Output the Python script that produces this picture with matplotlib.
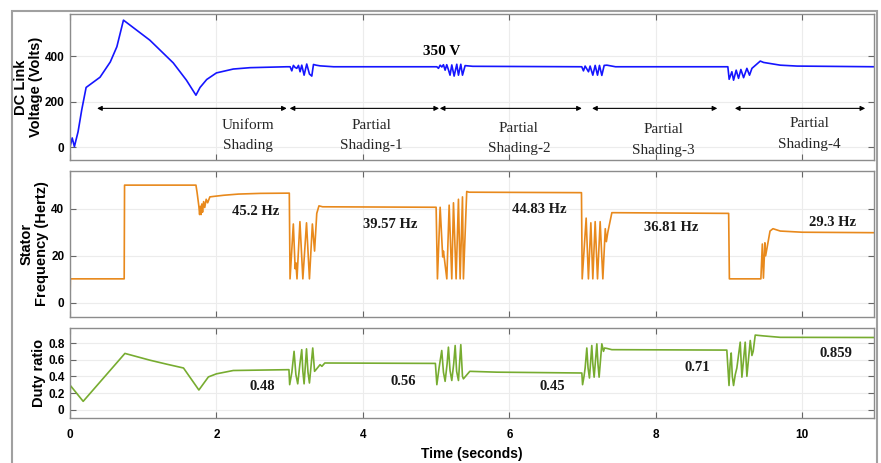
import matplotlib
matplotlib.use("Agg")
import matplotlib.pyplot as plt
from matplotlib.patches import Rectangle

plt.rcParams['font.family'] = ['Liberation Sans', 'DejaVu Sans']

# DC link voltage (V) vs time (s)
t_volt = [0, 0.03, 0.06, 0.11, 0.16, 0.22, 0.41, 0.55, 0.64, 0.73, 1.09, 1.41, 1.59, 1.72, 1.776, 1.867, 2.0, 2.23, 2.46, 2.96,
          3.006, 3.029, 3.051, 3.074, 3.097, 3.12, 3.142, 3.165, 3.197, 3.233, 3.27, 3.302, 3.325, 3.361, 3.415, 3.6,
          5.01, 5.032, 5.055, 5.078, 5.10, 5.123, 5.145, 5.168, 5.19, 5.214, 5.246, 5.282, 5.305, 5.337, 5.36, 5.396, 5.5,
          6.989, 7.012, 7.035, 7.081, 7.103, 7.14, 7.172, 7.204, 7.231, 7.263, 7.295, 7.332, 7.45,
          8.984, 9.002, 9.039, 9.062, 9.098, 9.13, 9.162, 9.199, 9.244, 9.28, 9.313, 9.427, 9.472, 9.7, 9.93, 11.0]
volt = [0, 40, 2, 67, 163, 262, 307, 374, 441, 558, 470, 370, 294, 228, 262, 297, 326, 343, 349, 353,
        353, 335, 359, 350, 346, 359, 331, 360, 316, 365, 321, 312, 363, 360, 357, 353,
        353, 346, 360, 352, 362, 338, 362, 340, 316, 361, 312, 364, 316, 364, 316, 358, 355,
        353, 335, 356, 331, 356, 316, 359, 316, 359, 315, 359, 360, 353,
        353, 298, 331, 294, 338, 302, 341, 305, 346, 316, 346, 378, 372, 360, 356, 353]

# stator frequency (Hz)
t_freq = [0, 0.005, 0.74, 0.745, 1.72, 1.735, 1.76, 1.77, 1.78, 1.79, 1.80, 1.81, 1.825, 1.84, 1.86, 1.88, 1.91, 1.96, 2.1, 2.3, 2.6, 2.995,
          3.005, 3.05, 3.075, 3.085, 3.10, 3.14, 3.18, 3.23, 3.27, 3.31, 3.34, 3.37, 3.40, 3.45, 5.0,
          5.018, 5.055, 5.09, 5.10, 5.146, 5.178, 5.214, 5.237, 5.273, 5.305, 5.328, 5.36, 5.373, 5.418, 5.45, 6.985,
          6.995, 7.049, 7.08, 7.113, 7.14, 7.172, 7.204, 7.24, 7.277, 7.31, 7.325, 7.345, 7.40, 8.995,
          9.005, 9.435, 9.455, 9.47, 9.49, 9.50, 9.56, 9.60, 9.70, 10.0, 11.0]
freq = [0, 10.2, 10.2, 50, 50, 47, 41, 37.5, 41, 37.5, 42, 38.5, 43, 40.5, 44, 42.5, 45, 45.2, 45.7, 46.2, 46.5, 46.6,
        10.2, 33.5, 14.5, 17, 10.2, 34.5, 10.2, 34, 10.2, 33.5, 22, 38, 41.2, 40.8, 40.6,
        10.2, 40.6, 19.5, 22, 10.2, 41.5, 10.2, 42.5, 10.2, 44, 10.2, 45, 10.2, 47.3, 47, 46.8,
        10.2, 36, 10.2, 34, 10.2, 34.5, 10.2, 34.5, 10.2, 31.5, 26, 30, 38.3, 38,
        10.2, 10.2, 25, 10.5, 25.5, 20, 30.5, 31.5, 30.5, 30, 29.8]

# duty ratio
t_duty = [0, 0.005, 0.18, 0.75, 1.09, 1.32, 1.55, 1.76, 1.89, 2.0, 2.23, 2.99,
          3.0, 3.03, 3.06, 3.085, 3.11, 3.14, 3.165, 3.18, 3.197, 3.23, 3.25, 3.27, 3.315, 3.34, 3.36, 3.415, 3.44, 3.48, 4.99,
          5.01, 5.04, 5.077, 5.10, 5.123, 5.15, 5.168, 5.19, 5.214, 5.24, 5.26, 5.28, 5.305, 5.337, 5.36, 5.373, 5.46, 5.83, 6.99,
          7.0, 7.02, 7.035, 7.058, 7.075, 7.094, 7.126, 7.14, 7.158, 7.195, 7.21, 7.226, 7.263, 7.286, 7.30, 7.332, 7.4, 8.97,
          9.0, 9.015, 9.03, 9.045, 9.062, 9.085, 9.107, 9.153, 9.176, 9.221, 9.244, 9.29, 9.313, 9.33, 9.358, 9.472, 9.7, 11.0]
duty = [0, 0.29, 0.10, 0.675, 0.594, 0.546, 0.50, 0.236, 0.393, 0.43, 0.47, 0.48,
        0.30, 0.45, 0.70, 0.42, 0.31, 0.55, 0.72, 0.46, 0.31, 0.73, 0.45, 0.32, 0.74, 0.46, 0.48, 0.54, 0.52, 0.56, 0.555,
        0.30, 0.50, 0.71, 0.45, 0.34, 0.55, 0.75, 0.47, 0.35, 0.55, 0.77, 0.46, 0.35, 0.78, 0.40, 0.37, 0.46, 0.45, 0.44,
        0.30, 0.40, 0.50, 0.74, 0.50, 0.38, 0.77, 0.55, 0.39, 0.79, 0.55, 0.39, 0.79, 0.70, 0.74, 0.735, 0.72, 0.715,
        0.29, 0.55, 0.68, 0.40, 0.29, 0.42, 0.50, 0.81, 0.39, 0.81, 0.40, 0.83, 0.65, 0.70, 0.895, 0.885, 0.868, 0.866]

# shading intervals (arrows) and their labels
spans = [(0.37, 2.96), (3.0, 5.04), (5.05, 6.99), (7.13, 8.84), (9.08, 10.86)]
span_labels = ["Uniform\nShading", "Partial\nShading-1", "Partial\nShading-2", "Partial\nShading-3", "Partial\nShading-4"]
span_label_x = [2.43, 4.12, 6.13, 8.1, 10.1]
span_label_y = [51, 51, 37, 31, 57]

freq_notes = ["45.2 Hz", "39.57 Hz", "44.83 Hz", "36.81 Hz", "29.3 Hz"]
freq_note_x = [2.53, 4.38, 6.41, 8.21, 10.41]
freq_note_y = [38.6, 33.2, 39.6, 31.8, 34.2]

duty_notes = ["0.48", "0.56", "0.45", "0.71", "0.859"]
duty_note_x = [2.63, 4.55, 6.58, 8.57, 10.46]
duty_note_y = [0.284, 0.333, 0.284, 0.506, 0.675]

W, H = 881, 463
fig = plt.figure(figsize=(W / 100, H / 100), dpi=100)
fig.patches.append(Rectangle((12 / W, -0.02), 865 / W, (H - 11) / H + 0.02, transform=fig.transFigure,
                             fill=False, edgecolor='#a0a0a0', lw=1.5))

def box(top, bottom):
    return [70 / W, (H - bottom) / H, 804 / W, (bottom - top) / H]

ax1 = fig.add_axes(box(14, 160))
ax2 = fig.add_axes(box(171, 317))
ax3 = fig.add_axes(box(328, 418))

def style(ax, ylim, yticks, yticklabels, show_x):
    ax.set_xlim(0, 10.98)
    ax.set_ylim(*ylim)
    ax.set_xticks([0, 2, 4, 6, 8, 10])
    ax.set_yticks(yticks)
    ax.set_yticklabels(yticklabels, fontweight='bold')
    if show_x:
        ax.set_xticklabels(["0", "2", "4", "6", "8", "10"], fontweight='bold')
    ax.grid(True, color='#ececec', lw=0.8)
    ax.set_axisbelow(True)
    ax.tick_params(direction='in', top=True, right=True, length=4, width=0.8, color='#666666',
                   labelsize=8.5, labelbottom=show_x, pad=4)
    ax.tick_params(axis='x', pad=8)
    for s in ax.spines.values():
        s.set_color('#8c8c8c')
        s.set_linewidth(1.0)

style(ax1, (-57, 585), [0, 200, 400], ["0", "200", "400"], False)
style(ax2, (-6, 56), [0, 20, 40], ["0", "20", "40"], False)
style(ax3, (-0.1, 0.98), [0, 0.2, 0.4, 0.6, 0.8], ["0", "0.2", "0.4", "0.6", "0.8"], True)

ax1.plot(t_volt, volt, color='#1515ff', lw=1.2)
ax2.plot(t_freq, freq, color='#e8891c', lw=1.2)
ax3.plot(t_duty, duty, color='#77ac30', lw=1.2)

for (a, b) in spans:
    ax1.annotate("", xy=(b, 170), xytext=(a, 170),
                 arrowprops=dict(arrowstyle='<|-|>', color='black', lw=0.8, mutation_scale=7,
                                 shrinkA=0, shrinkB=0))
for lab, x, y in zip(span_labels, span_label_x, span_label_y):
    ax1.text(x, y, lab, ha='center', va='center', family='Liberation Serif', fontsize=11,
             color='#262626', linespacing=1.75)
ax1.text(5.07, 422, "350 V", ha='center', va='center', family='Liberation Serif', fontsize=11,
         fontweight='bold')

for lab, x, y in zip(freq_notes, freq_note_x, freq_note_y):
    ax2.text(x, y, lab, ha='center', va='center', family='Liberation Serif', fontsize=10.5,
             fontweight='bold', color='#1a1a1a')
for lab, x, y in zip(duty_notes, duty_note_x, duty_note_y):
    ax3.text(x, y, lab, ha='center', va='center', family='Liberation Serif', fontsize=10.5,
             fontweight='bold', color='#1a1a1a')

ax1.set_ylabel("DC Link\nVoltage (Volts)", fontweight='bold', fontsize=10.5, linespacing=1.1)
ax1.yaxis.set_label_coords(-0.034, 0.5)
ax2.set_ylabel("Stator\nFrequency (Hertz)", fontweight='bold', fontsize=10.5, linespacing=1.1)
ax2.yaxis.set_label_coords(-0.026, 0.5)
ax3.set_ylabel("Duty ratio", fontweight='bold', fontsize=10.5)
ax3.yaxis.set_label_coords(-0.03, 0.5)
ax3.set_xlabel("Time (seconds)", fontweight='bold', fontsize=10)
ax3.xaxis.set_label_coords(0.5, -0.32)

fig.savefig("out.png", dpi=100)
